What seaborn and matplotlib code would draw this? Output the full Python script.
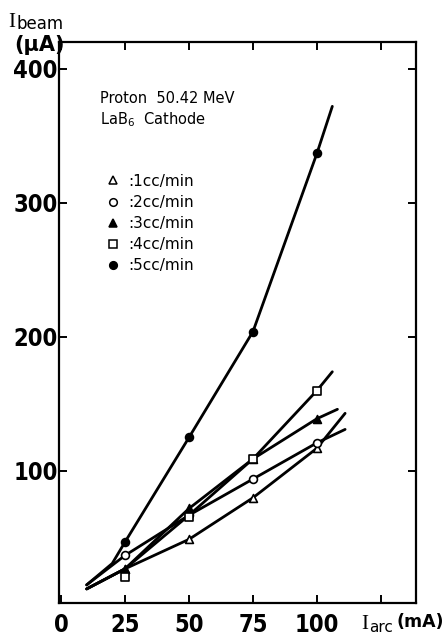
import matplotlib
matplotlib.use("Agg")
import matplotlib.pyplot as plt
import matplotlib.font_manager as fm
from matplotlib.lines import Line2D
import seaborn as sns
import pandas as pd

# ---------------- data ----------------
arc_current = [25, 50, 75, 100]
beam_1cc = [27, 49, 80, 117]
beam_2cc = [37, 67, 94, 121]
beam_3cc = [27, 72, 109, 139]
beam_4cc = [21, 66, 109, 160]
beam_5cc = [47, 125, 204, 337]

# hand-drawn guide curves
curve_1cc_x = [10, 25, 50, 75, 100, 111]
curve_1cc_y = [12, 27, 49, 80, 117, 143]
curve_2cc_x = [10, 25, 50, 75, 100, 111]
curve_2cc_y = [15, 37, 67, 94, 121, 131]
curve_3cc_x = [10, 25, 50, 75, 100, 108]
curve_3cc_y = [12, 27, 72, 109, 139, 146]
curve_4cc_x = [10, 25, 50, 75, 100, 106]
curve_4cc_y = [12, 27, 67, 109, 160, 174]
curve_5cc_x = [10, 20, 25, 50, 75, 100, 106]
curve_5cc_y = [15, 31, 47, 125, 204, 337, 372]

series_labels = [":1cc/min", ":2cc/min", ":3cc/min", ":4cc/min", ":5cc/min"]
x_ticks = [0, 25, 50, 75, 100, 125]
x_tick_labels = ["0", "25", "50", "75", "100", ""]
y_ticks = [100, 200, 300, 400]
y_tick_labels = ["100", "200", "300", "400"]

# ---------------- styling ----------------
sns.set_theme(style="white")
plt.rcParams["font.family"] = ["DejaVu Sans"]
plt.rcParams["text.color"] = "black"

entries = fm.fontManager.ttflist
has_cond = any(f.name == "DejaVu Sans" and ("ondensed" in str(f.stretch) or "Condensed" in f.fname)
               for f in entries)
names = {f.name for f in entries}
if "Liberation Sans Narrow" in names:
    tick_fp = fm.FontProperties(family="Liberation Sans Narrow", size=19, weight="bold")
    lab_family = "Liberation Sans Narrow"
elif has_cond:
    tick_fp = fm.FontProperties(family="DejaVu Sans", stretch="condensed", size=17, weight="bold")
    lab_family = "DejaVu Sans"
else:
    tick_fp = fm.FontProperties(family="Roboto", size=15.5, weight="bold")
    lab_family = "Roboto"

W, H = 447, 640
fig = plt.figure(figsize=(W / 100, H / 100), dpi=100)
left, right, top, bottom = 59, 416, 42, 603
ax = fig.add_axes([left / W, 1 - bottom / H, (right - left) / W, (bottom - top) / H])

markers = {
    ":1cc/min": dict(marker="^", fc="white"),
    ":2cc/min": dict(marker="o", fc="white"),
    ":3cc/min": dict(marker="^", fc="black"),
    ":4cc/min": dict(marker="s", fc="white"),
    ":5cc/min": dict(marker="o", fc="black"),
}

curves = [
    (curve_1cc_x, curve_1cc_y),
    (curve_2cc_x, curve_2cc_y),
    (curve_3cc_x, curve_3cc_y),
    (curve_4cc_x, curve_4cc_y),
    (curve_5cc_x, curve_5cc_y),
]
points = [beam_1cc, beam_2cc, beam_3cc, beam_4cc, beam_5cc]

for (cx, cy) in curves:
    sns.lineplot(x=cx, y=cy, ax=ax, color="black", lw=2.0, sort=False,
                 estimator=None, zorder=2, legend=False)

for lab, ys in zip(series_labels, points):
    df = pd.DataFrame({"I_arc": arc_current, "I_beam": ys})
    m = markers[lab]
    sns.scatterplot(data=df, x="I_arc", y="I_beam", ax=ax, marker=m["marker"],
                    facecolor=m["fc"], edgecolor="black", linewidth=1.2,
                    s=32, zorder=3, legend=False)

ax.set_xlim(-0.8, 138.7)
ax.set_ylim(1.5, 420)
ax.set_xticks(x_ticks)
ax.set_xticklabels(x_tick_labels)
ax.set_yticks(y_ticks)
ax.set_yticklabels(y_tick_labels)
ax.set_xlabel("")
ax.set_ylabel("")
ax.tick_params(axis="both", direction="in", length=6, width=1.4, color="black",
               top=True, right=True, bottom=True, left=True,
               labelcolor="black")
ax.tick_params(axis="x", pad=7)
ax.tick_params(axis="y", pad=1)
for lbl in ax.get_xticklabels() + ax.get_yticklabels():
    lbl.set_fontproperties(tick_fp)
for sp in ax.spines.values():
    sp.set_color("black")
    sp.set_linewidth(1.6)

# annotations
ax.text(0.115, 0.900, "Proton  50.42 MeV", transform=ax.transAxes, fontsize=10.5,
        ha="left", va="center", color="black")
ax.text(0.115, 0.861, "LaB$_6$  Cathode", transform=ax.transAxes, fontsize=10.5,
        ha="left", va="center", color="black")

handles = [Line2D([], [], ls="none", marker=markers[l]["marker"],
                  markerfacecolor=markers[l]["fc"], markeredgecolor="black",
                  markersize=5.5, markeredgewidth=1.1) for l in series_labels]
leg = ax.legend(handles, series_labels, loc="upper left",
                bbox_to_anchor=(0.135, 0.765), frameon=False, fontsize=11,
                handlelength=0.8, handletextpad=0.6, labelspacing=0.4,
                borderaxespad=0, borderpad=0, labelcolor="black")

# axis labels
fig.text(8 / W, 1 - 27 / H, "I", family=["Liberation Serif", "DejaVu Serif"],
         fontsize=15, ha="left", va="baseline", color="black")
fig.text(16 / W, 1 - 29 / H, "beam", family=lab_family, fontsize=12,
         ha="left", va="baseline", color="black")
fig.text(39 / W, 1 - 45 / H, "(\u00b5A)", family=lab_family, fontsize=15,
         weight="bold", ha="center", va="center", color="black")

fig.text(361 / W, 1 - 629 / H, "I", family=["Liberation Serif", "DejaVu Serif"],
         fontsize=15, ha="left", va="baseline", color="black")
fig.text(369 / W, 1 - 632 / H, "arc", family=lab_family, fontsize=11,
         ha="left", va="baseline", color="black")
fig.text(444 / W, 1 - 622 / H, "(mA)", family=lab_family, fontsize=12.5,
         weight="bold", ha="right", va="center", color="black")

fig.savefig("out.png", dpi=100, facecolor="white")
